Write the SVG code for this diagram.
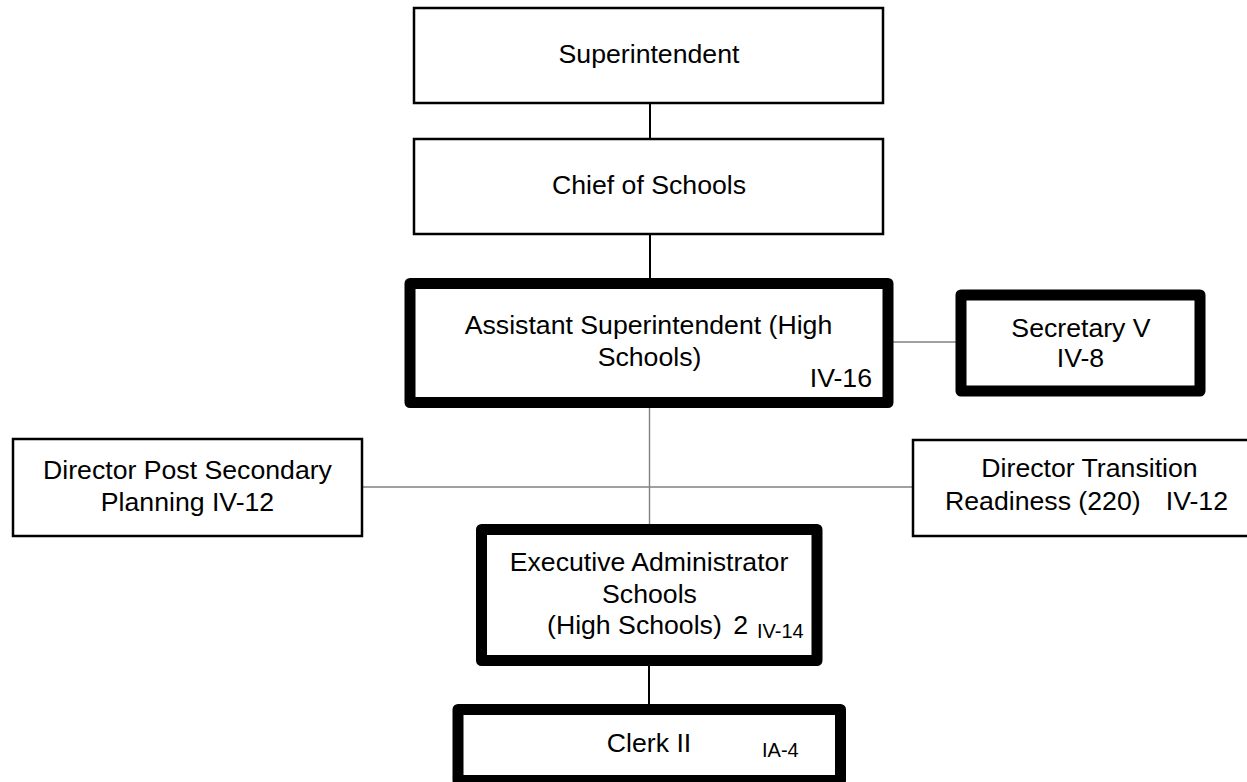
<svg xmlns="http://www.w3.org/2000/svg" width="1247" height="782" viewBox="0 0 1247 782">
<style>
  text { font-family: "Liberation Sans", Arial, sans-serif; font-size: 26.67px; fill: #000; }
  .c { text-anchor: middle; }
  .e { text-anchor: end; }
  .sm { font-size: 20px; }
  .thin { fill: #fff; stroke: #000; stroke-width: 2.5; }
  .thick { fill: #fff; stroke: #000; stroke-width: 11; stroke-linejoin: round; }
  .conn-b { stroke: #000; stroke-width: 2; fill: none; }
  .conn-g { stroke: #808080; stroke-width: 1.4; fill: none; }
</style>
<rect width="1247" height="782" fill="#fff"/>
<g id="connectors">
  <line class="conn-b" x1="650" y1="103" x2="650" y2="139"/>
  <line class="conn-b" x1="650" y1="234" x2="650" y2="280"/>
  <line class="conn-g" x1="893" y1="342" x2="956" y2="342"/>
  <line class="conn-g" x1="649.5" y1="407" x2="649.5" y2="525"/>
  <line class="conn-g" x1="362" y1="487" x2="914" y2="487"/>
  <line class="conn-b" x1="649" y1="666" x2="649" y2="705"/>
</g>
<g id="superintendent">
  <rect class="thin" x="414" y="8" width="469" height="95"/>
  <text class="c" x="649" y="63">Superintendent</text>
</g>
<g id="chief-of-schools">
  <rect class="thin" x="414" y="139" width="469" height="95"/>
  <text class="c" x="649" y="194">Chief of Schools</text>
</g>
<g id="assistant-superintendent">
  <rect class="thick" x="410" y="283.5" width="478" height="119"/>
  <text class="c" x="648.5" y="334">Assistant Superintendent (High</text>
  <text class="c" x="649.5" y="366">Schools)</text>
  <text class="e" x="872" y="387">IV-16</text>
</g>
<g id="secretary-v">
  <rect class="thick" x="961" y="295" width="239" height="96"/>
  <text class="c" x="1081" y="337">Secretary V</text>
  <text class="c" x="1080.5" y="367">IV-8</text>
</g>
<g id="director-post-secondary">
  <rect class="thin" x="13" y="439" width="349" height="97"/>
  <text class="c" x="187.5" y="479">Director Post Secondary</text>
  <text class="c" x="187.5" y="511">Planning IV-12</text>
</g>
<g id="director-transition">
  <rect class="thin" x="913" y="440" width="349" height="96"/>
  <text class="c" x="1089.5" y="477">Director Transition</text>
  <text x="945" y="510">Readiness (220)</text>
  <text class="e" x="1228" y="510">IV-12</text>
</g>
<g id="executive-administrator">
  <rect class="thick" x="481.5" y="529.5" width="335.5" height="131"/>
  <text class="c" x="649" y="571">Executive Administrator</text>
  <text class="c" x="649.5" y="603">Schools</text>
  <text x="547" y="634">(High Schools)</text>
  <text class="e" x="748" y="634">2</text>
  <text class="sm" x="757" y="638">IV-14</text>
</g>
<g id="clerk-ii">
  <rect class="thick" x="458" y="709.5" width="382.5" height="71"/>
  <text class="c" x="649" y="752">Clerk II</text>
  <text class="sm" x="762" y="757">IA-4</text>
</g>
</svg>
